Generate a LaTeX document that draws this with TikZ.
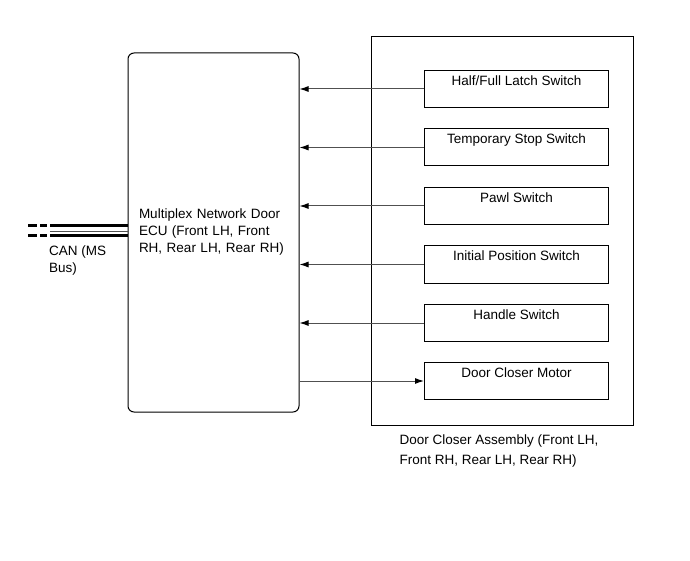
\documentclass[tikz,border=0pt]{standalone}
\usepackage{fontspec}
\setmainfont{Liberation Sans}
\usepackage{xcolor}
\usepackage{tikz}
\usetikzlibrary{arrows.meta,positioning}
\definecolor{linegray}{HTML}{505050}
\tikzset{
  ecubox/.style={draw=black, line width=1pt, rounded corners=6pt, align=left, text width=149pt, minimum width=171pt, minimum height=359pt, inner sep=0pt},
  assybox/.style={draw=black, line width=1pt, minimum width=262pt, minimum height=388pt, inner sep=0pt},
  swbox/.style={draw=black, line width=1pt, anchor=west, minimum width=184pt, inner xsep=0pt, inner ysep=5pt, text height=10pt, text depth=17pt},
  caption/.style={align=left, inner sep=0pt},
  arrow/.style={-{Latex[length=9pt,width=6pt,black]}, line width=1pt, draw=linegray},
  canthick/.style={line width=3pt, dash pattern=on 9pt off 3pt on 7pt off 3pt on 100pt},
  canthin/.style={line width=0.9pt, draw=linegray}
}

\begin{document}
\begin{tikzpicture}[x=1pt, y=-1pt, font=\fontsize{13.5}{17}\selectfont]
  \useasboundingbox (0,0) rectangle (690,561);

  \node[ecubox] (ecu) at (213.5,232.5) {Multiplex Network Door\\ECU (Front LH, Front\\RH, Rear LH, Rear RH)};
  \node[assybox] (assy) at (502,231) {};

  \node[swbox] (latch) at (424,89) {Half/Full Latch Switch};
  \node[swbox] (tempstop) at (424,147.5) {Temporary Stop Switch};
  \node[swbox] (pawl) at (424,206) {Pawl Switch};
  \node[swbox] (initpos) at (424,264.5) {Initial Position Switch};
  \node[swbox] (handle) at (424,323) {Handle Switch};
  \node[swbox] (motor) at (424,381) {Door Closer Motor};

  \draw[arrow] (latch.west) -- (latch.west -| ecu.east);
  \draw[arrow] (tempstop.west) -- (tempstop.west -| ecu.east);
  \draw[arrow] (pawl.west) -- (pawl.west -| ecu.east);
  \draw[arrow] (initpos.west) -- (initpos.west -| ecu.east);
  \draw[arrow] (handle.west) -- (handle.west -| ecu.east);
  \draw[arrow] (motor.west -| ecu.east) -- (motor.west);

  % CAN bus lines
  \coordinate (cantop) at (28,226);
  \coordinate (canmid) at (50,231);
  \coordinate (canbot) at (28,236);
  \draw[canthick] (cantop) -- (cantop -| ecu.west);
  \draw[canthin] (canmid) -- (canmid -| ecu.west);
  \draw[canthick] (canbot) -- (canbot -| ecu.west);
  \node[caption, anchor=north west] (canlbl) at (49,246) {CAN (MS\\Bus)};

  \node[caption, font=\fontsize{13.5}{20}\selectfont, below right=9pt and 29pt of assy.south west] (assylbl) {Door Closer Assembly (Front LH,\\Front RH, Rear LH, Rear RH)};
\end{tikzpicture}
\end{document}
